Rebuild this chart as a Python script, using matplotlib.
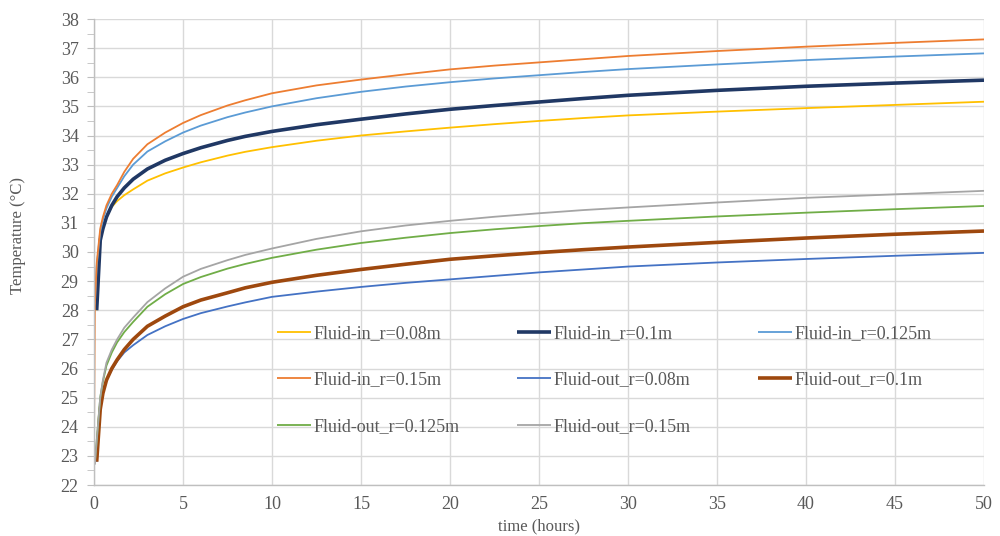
import numpy as np
import matplotlib
matplotlib.use("Agg")
import matplotlib.pyplot as plt
from matplotlib.ticker import MultipleLocator

nan = np.nan
time_h = [0, 0.05, 0.15, 0.35, 0.5, 0.7, 1.0, 1.3, 1.7, 2.2, 3, 4, 5, 6, 7.5, 8.5, 10,
          12.5, 15, 17.5, 20, 22.5, 25, 27.5, 30, 35, 40, 45, 50]

fluid_in_008 = [nan, nan, 28.0, 30.4, 30.8, 31.2, 31.55, 31.75, 31.95, 32.15, 32.45, 32.7, 32.9, 33.08, 33.31, 33.44, 33.6,
                33.82, 34.0, 34.14, 34.27, 34.39, 34.5, 34.6, 34.69, 34.82, 34.94, 35.05, 35.16]
fluid_in_010 = [nan, nan, 28.0, 30.4, 30.8, 31.2, 31.6, 31.9, 32.2, 32.5, 32.85, 33.15, 33.38, 33.58, 33.83, 33.97, 34.14,
                34.37, 34.56, 34.74, 34.9, 35.03, 35.15, 35.27, 35.38, 35.55, 35.69, 35.80, 35.90]
fluid_in_0125 = [nan, 28.2, 29.5, 30.7, 31.1, 31.5, 31.9, 32.2, 32.6, 33.0, 33.45, 33.8, 34.1, 34.34, 34.63, 34.79, 35.0,
                 35.28, 35.5, 35.68, 35.83, 35.96, 36.07, 36.18, 36.28, 36.44, 36.59, 36.71, 36.82]
fluid_in_015 = [23.7, 28.2, 29.6, 30.8, 31.2, 31.6, 32.0, 32.3, 32.75, 33.2, 33.7, 34.1, 34.43, 34.7, 35.03, 35.21, 35.45,
                35.72, 35.92, 36.1, 36.27, 36.4, 36.51, 36.62, 36.73, 36.9, 37.05, 37.18, 37.30]
fluid_out_008 = [nan, nan, 22.8, 24.6, 25.15, 25.6, 25.95, 26.25, 26.55, 26.8, 27.15, 27.45, 27.7, 27.9, 28.13, 28.27, 28.46,
                 28.64, 28.8, 28.94, 29.06, 29.18, 29.3, 29.4, 29.5, 29.64, 29.76, 29.87, 29.97]
fluid_out_010 = [nan, nan, 22.8, 24.6, 25.15, 25.6, 26.0, 26.3, 26.65, 27.0, 27.45, 27.8, 28.12, 28.35, 28.6, 28.77, 28.96,
                 29.2, 29.4, 29.58, 29.75, 29.87, 29.98, 30.08, 30.17, 30.33, 30.48, 30.61, 30.72]
fluid_out_0125 = [nan, 22.8, 23.5, 25.0, 25.55, 26.1, 26.55, 26.9, 27.25, 27.6, 28.12, 28.55, 28.9, 29.14, 29.43, 29.59, 29.8,
                  30.08, 30.31, 30.49, 30.65, 30.78, 30.89, 30.99, 31.07, 31.22, 31.35, 31.47, 31.58]
fluid_out_015 = [nan, 22.7, 23.5, 25.0, 25.6, 26.2, 26.65, 27.0, 27.4, 27.75, 28.28, 28.75, 29.15, 29.42, 29.72, 29.9, 30.12,
                 30.45, 30.71, 30.91, 31.07, 31.21, 31.33, 31.44, 31.53, 31.70, 31.86, 31.98, 32.10]

labels = ["Fluid-in_r=0.08m", "Fluid-in_r=0.1m", "Fluid-in_r=0.125m", "Fluid-in_r=0.15m",
          "Fluid-out_r=0.08m", "Fluid-out_r=0.1m", "Fluid-out_r=0.125m", "Fluid-out_r=0.15m"]
series = [fluid_in_008, fluid_in_010, fluid_in_0125, fluid_in_015,
          fluid_out_008, fluid_out_010, fluid_out_0125, fluid_out_015]
colors = ["#FFC000", "#203864", "#5B9BD5", "#ED7D31", "#4472C4", "#9E480E", "#70AD47", "#A5A5A5"]
widths = [1.3, 2.6, 1.3, 1.3, 1.3, 2.6, 1.3, 1.3]

plt.rcParams['font.family'] = ['Liberation Serif', 'DejaVu Serif']
txt = "#595959"

fig = plt.figure(figsize=(10, 5.36), dpi=100)
ax = fig.add_axes([0.094, 1 - 485 / 536, 0.890, (485 - 19) / 536])

handles = []
for y, c, w, l in zip(series, colors, widths, labels):
    h, = ax.plot(time_h, y, color=c, lw=w, label=l, solid_capstyle='butt', solid_joinstyle='round')
    handles.append(h)

ax.set_xlim(0, 50)
ax.set_ylim(22, 38)
ax.xaxis.set_major_locator(MultipleLocator(5))
ax.yaxis.set_major_locator(MultipleLocator(1))
ax.yaxis.set_minor_locator(MultipleLocator(0.5))
ax.grid(True, which='major', color='#D9D9D9', lw=1.0)
ax.set_axisbelow(True)
for s in ['top', 'right']:
    ax.spines[s].set_visible(False)
for s in ['left', 'bottom']:
    ax.spines[s].set_color('#BFBFBF')
    ax.spines[s].set_linewidth(1.0)
ax.tick_params(axis='x', length=0, pad=8, labelsize=13, labelcolor=txt)
ax.tick_params(axis='y', which='both', length=5, color='#BFBFBF', direction='out', pad=6, labelsize=13, labelcolor=txt)

ax.set_xlabel("time (hours)", fontsize=12, color=txt, labelpad=4)
ax.set_ylabel("Temperature (°C)", fontsize=12, color=txt)
ax.yaxis.set_label_coords(-0.0764, 0.536)

cols = [[0, 3, 6], [1, 4, 7], [2, 5]]
xs = [277, 517, 758]
for i, (ci, xp) in enumerate(zip(cols, xs)):
    leg = ax.legend([handles[k] for k in ci], [labels[k] for k in ci],
                    loc='upper left', bbox_to_anchor=(xp / 1000, 1 - 325 / 536),
                    bbox_transform=fig.transFigure, frameon=False,
                    fontsize=13, handlelength=1.9, handletextpad=0.15,
                    labelspacing=1.63, borderpad=0, borderaxespad=0,
                    labelcolor=txt)
    if i < len(cols) - 1:
        ax.add_artist(leg)

fig.savefig("out.png", dpi=100, facecolor='white')
